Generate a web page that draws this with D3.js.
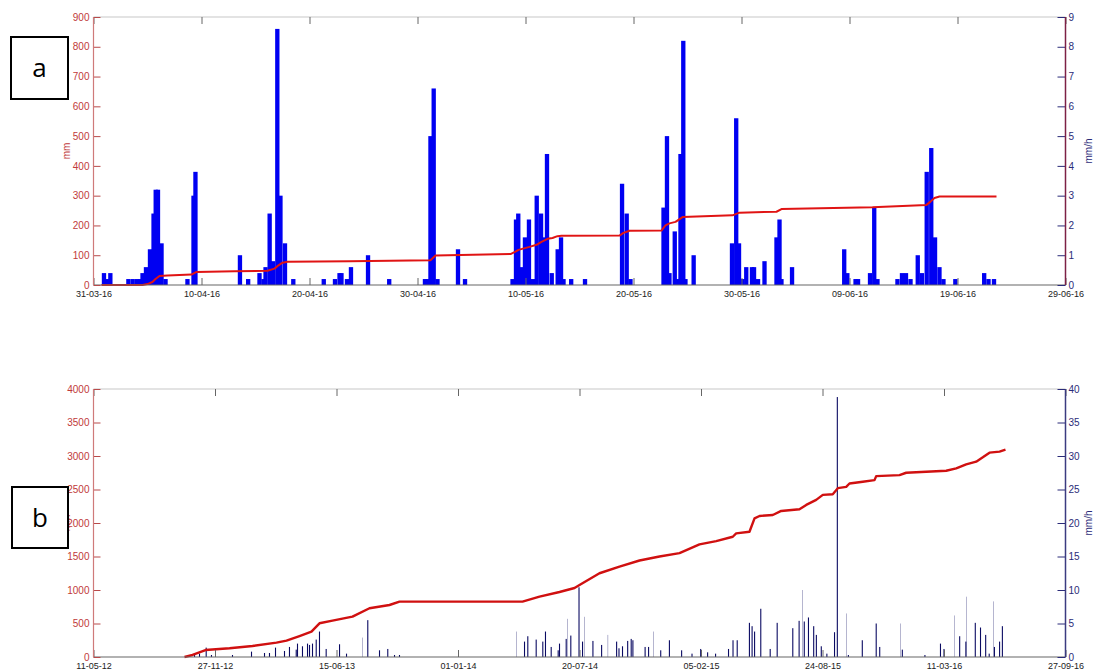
<!DOCTYPE html>
<html>
<head>
<meta charset="utf-8">
<script src="https://cdn.jsdelivr.net/npm/d3@7"></script>
<style>
  body { margin: 0; background: #fff; }
  svg text { font-family: "Liberation Sans", Arial, sans-serif; }
</style>
</head>
<body>
<svg id="chart" width="1095" height="672"></svg>
<script>
// ---------- Panel a: spring 2016 (days counted from 31-03-16 00:00) ----------
const ticksA = ["31-03-16", "10-04-16", "20-04-16", "30-04-16", "10-05-16",
                "20-05-16", "30-05-16", "09-06-16", "19-06-16", "29-06-16"];
const mmTicksA = [0, 100, 200, 300, 400, 500, 600, 700, 800, 900];
const rateTicksA = [0, 1, 2, 3, 4, 5, 6, 7, 8, 9];

// rainfall intensity [day, mm/h]
const rainA = [
  [0.97, 0.4], [1.25, 0.2], [1.56, 0.4],
  [3.23, 0.2], [3.63, 0.2], [4.03, 0.2], [4.35, 0.2], [4.54, 0.4], [4.86, 0.6], [5.23, 1.2],
  [5.56, 2.4], [5.76, 3.2], [5.97, 3.2], [6.30, 1.4], [6.67, 0.2],
  [8.70, 0.2], [9.26, 3.0], [9.44, 3.8],
  [13.56, 1.0], [14.32, 0.2],
  [15.37, 0.4], [15.74, 0.2], [15.93, 0.6], [16.31, 2.4], [16.62, 0.8], [17.02, 8.6],
  [17.31, 3.0], [17.73, 1.4], [18.50, 0.2],
  [21.32, 0.2], [22.36, 0.2], [22.78, 0.4], [22.96, 0.4], [23.47, 0.2], [23.84, 0.6],
  [25.42, 1.0], [27.38, 0.2],
  [30.69, 0.2], [30.93, 0.2], [31.20, 5.0], [31.50, 6.6], [31.85, 0.2],
  [33.75, 1.2], [34.40, 0.2],
  [38.80, 0.2], [39.12, 2.2], [39.33, 2.4], [39.66, 0.6], [39.95, 1.6], [40.32, 2.2],
  [40.68, 0.2], [41.04, 3.0], [41.44, 2.4], [41.62, 1.6], [41.99, 4.4], [42.43, 0.4],
  [42.98, 1.2], [43.29, 1.6], [43.52, 0.2],
  [44.23, 0.2], [45.51, 0.2],
  [48.94, 3.4], [49.37, 2.4], [49.72, 0.2],
  [52.78, 2.6], [53.10, 5.0], [53.33, 0.4], [53.82, 1.8], [54.07, 0.2], [54.35, 4.4],
  [54.61, 8.2], [54.81, 0.2], [55.57, 1.0],
  [59.12, 1.4], [59.51, 5.6], [59.77, 1.4], [60.09, 0.2], [60.44, 0.6], [60.97, 0.6],
  [61.16, 0.6], [61.53, 0.2], [62.13, 0.8],
  [63.24, 1.6], [63.52, 2.2], [63.70, 0.2], [64.68, 0.6],
  [69.51, 1.2], [69.80, 0.4], [70.56, 0.2], [70.79, 0.2],
  [71.90, 0.4], [72.29, 2.6], [72.59, 0.2],
  [74.44, 0.2], [74.86, 0.4], [75.23, 0.4], [75.65, 0.2], [76.32, 1.0],
  [76.71, 0.4], [77.15, 3.8], [77.57, 4.6], [77.92, 1.6], [78.33, 0.6], [78.70, 0.2],
  [79.80, 0.2], [82.47, 0.4], [82.87, 0.2], [83.38, 0.2]
];

// cumulative rainfall [day, mm]
const cumA = [
  [0.74, 0], [4.54, 0], [5.00, 3], [5.46, 10], [5.74, 20], [6.11, 30], [6.85, 32],
  [9.07, 35], [9.54, 44], [13.06, 46], [16.11, 48], [16.76, 55], [17.13, 66], [17.50, 75],
  [17.96, 78], [23.70, 80], [31.20, 83], [31.67, 99], [38.61, 104], [39.07, 112],
  [39.35, 118], [40.37, 128], [41.02, 135], [41.48, 145], [42.04, 155], [42.50, 158],
  [42.96, 164], [43.33, 165], [48.70, 166], [49.07, 175], [49.63, 182], [52.59, 183],
  [52.96, 200], [53.33, 207], [53.89, 212], [54.54, 228], [59.17, 234], [59.81, 243],
  [63.24, 246], [63.70, 255], [72.13, 261], [77.13, 269], [77.50, 280], [77.87, 292],
  [78.33, 297], [83.61, 297]
];

// ---------- Panel b: full record (days counted from 11-05-12 00:00) ----------
const ticksB = ["11-05-12", "27-11-12", "15-06-13", "01-01-14", "20-07-14",
                "05-02-15", "24-08-15", "11-03-16", "27-09-16"];
const mmTicksB = [0, 500, 1000, 1500, 2000, 2500, 3000, 3500, 4000];
const rateTicksB = [0, 5, 10, 15, 20, 25, 30, 35, 40];

// hourly intensity peaks [day, mm/h]
const rainB = [
  [158.0, 0.3], [166.3, 0.4], [174.5, 0.5], [185.5, 1.4], [194.2, 0.3], [228.8, 0.3],
  [260.1, 0.8], [281.5, 0.6], [289.7, 0.6], [299.6, 1.4], [314.4, 0.9], [322.6, 1.5],
  [333.7, 1.1], [335.8, 2.0], [344.0, 1.6], [352.3, 2.0], [355.6, 1.8], [360.5, 2.0],
  [366.6, 2.6], [372.0, 3.8], [383.0, 1.2], [405.0, 1.9], [416.5, 0.5], [451.5, 5.5],
  [470.8, 1.0], [484.4, 1.2], [495.5, 0.3], [503.7, 0.3],
  [709.5, 2.3], [714.9, 3.1], [728.7, 2.6], [739.6, 2.3], [744.0, 3.8], [753.4, 1.5],
  [764.9, 1.0], [767.1, 2.0], [778.1, 2.7], [785.7, 3.2], [799.2, 10.4], [805.0, 2.3],
  [822.1, 2.4], [836.4, 1.8], [861.1, 2.3], [865.0, 1.3], [870.8, 1.6], [879.3, 2.4],
  [885.1, 2.7], [887.9, 2.5], [908.0, 1.5], [913.7, 1.5], [933.7, 1.0], [948.0, 2.5],
  [968.1, 1.0], [985.2, 0.5], [999.5, 1.2], [1010.9, 0.7], [1024.0, 0.5], [1045.3, 1.2],
  [1052.7, 2.5], [1059.6, 2.5], [1079.7, 5.1], [1084.1, 4.6], [1088.2, 3.8], [1098.4, 7.2],
  [1113.9, 1.2], [1125.4, 5.1], [1151.1, 4.3], [1161.5, 5.4], [1170.0, 5.3], [1176.9, 5.9],
  [1185.5, 4.6], [1189.9, 3.3], [1198.0, 1.6], [1207.2, 0.5], [1219.8, 3.7], [1224.4, 38.8],
  [1242.6, 0.3], [1265.5, 2.5], [1288.4, 5.0], [1294.2, 1.5], [1331.4, 1.1], [1368.6, 0.3],
  [1394.2, 2.0], [1400.0, 1.2], [1425.8, 3.1], [1436.0, 2.3], [1451.5, 5.1], [1460.1, 4.4],
  [1468.6, 3.3], [1474.4, 0.5], [1483.0, 1.5], [1491.5, 2.3], [1496.1, 4.6]
];

// short bursts (drawn as hairlines) [day, mm/h]
const burstsB = [
  [443.3, 2.9], [695.8, 3.8], [780.8, 5.7], [807.9, 6.0], [846.8, 3.3], [922.3, 3.8],
  [1167.6, 10.0], [1239.8, 6.5], [1328.4, 5.0], [1417.1, 6.2], [1436.5, 9.0], [1481.0, 8.3]
];

// cumulative rainfall [day, mm]
const cumB = [
  [149.8, 0], [163.0, 30], [184.4, 104], [223.9, 130], [261.7, 164], [301.2, 214],
  [317.7, 244], [339.1, 313], [358.8, 378], [372.0, 503], [393.4, 542], [426.3, 602],
  [454.3, 727], [487.2, 776], [503.7, 826], [706.2, 826], [734.2, 900], [767.1, 970],
  [791.8, 1030], [800.0, 1075], [832.9, 1250], [865.8, 1350], [898.8, 1440], [931.7, 1500],
  [964.6, 1550], [997.5, 1682], [1025.0, 1730], [1052.3, 1795], [1057.9, 1845],
  [1079.8, 1870], [1088.1, 2070], [1096.3, 2105], [1118.2, 2120], [1132.0, 2180],
  [1162.1, 2205], [1173.2, 2270], [1189.6, 2345], [1200.5, 2420], [1216.9, 2430],
  [1225.2, 2520], [1239.0, 2540], [1244.4, 2590], [1266.3, 2615], [1285.6, 2640],
  [1288.4, 2700], [1326.7, 2715], [1337.8, 2750], [1403.6, 2780], [1420.1, 2815],
  [1436.5, 2875], [1453.0, 2915], [1463.9, 2980], [1474.9, 3050], [1491.4, 3065],
  [1501.2, 3095]
];

// ---------- drawing ----------
const svg = d3.select("#chart");
const parseDate = d3.utcParse("%d-%m-%y");
const DAY = 864e5;

const RED_TEXT = "#bf3a3a";
const RED_AXIS = "#cf7a7a";
const BLUE_TEXT = "#2b2b78";

function drawPanel(o) {
  const dates = o.ticks.map(parseDate);
  const t0 = dates[0];
  const at = d => new Date(t0.getTime() + d * DAY);

  const x = d3.scaleUtc().domain([dates[0], dates[dates.length - 1]]).range([o.left, o.right]);
  const yMm = d3.scaleLinear().domain([0, d3.max(o.mmTicks)]).range([o.bottom, o.top]);
  const yRate = d3.scaleLinear().domain([0, d3.max(o.rateTicks)]).range([o.bottom, o.top]);

  const g = svg.append("g");

  // frame: top edge
  g.append("line")
    .attr("x1", o.left).attr("x2", o.right)
    .attr("y1", o.top).attr("y2", o.top)
    .attr("stroke", "#c8c8c8").attr("stroke-width", 1.2);

  // intensity bars
  const half = o.barDays / 2;
  g.append("g").selectAll("rect").data(o.rain).join("rect")
    .attr("x", d => x(at(d[0] - half)))
    .attr("width", d => x(at(d[0] + half)) - x(at(d[0] - half)))
    .attr("y", d => yRate(d[1]))
    .attr("height", d => yRate(0) - yRate(d[1]))
    .attr("fill", o.barColor);

  if (o.bursts) {
    const h2 = o.burstDays / 2;
    g.append("g").selectAll("rect").data(o.bursts).join("rect")
      .attr("x", d => x(at(d[0] - h2)))
      .attr("width", d => x(at(d[0] + h2)) - x(at(d[0] - h2)))
      .attr("y", d => yRate(d[1]))
      .attr("height", d => yRate(0) - yRate(d[1]))
      .attr("fill", o.barColor);
  }

  // cumulative rainfall line
  g.append("path").datum(o.cum)
    .attr("fill", "none")
    .attr("stroke", o.lineColor)
    .attr("stroke-width", o.lineWidth)
    .attr("stroke-linejoin", "round")
    .attr("d", d3.line().x(d => x(at(d[0]))).y(d => yMm(d[1])));

  // bottom axis (inward ticks, date labels)
  const bx = g.append("g").attr("transform", `translate(0,${o.bottom})`)
    .call(d3.axisBottom(x).tickValues(dates).tickFormat(d3.utcFormat("%d-%m-%y"))
      .tickSizeInner(-7).tickSizeOuter(0).tickPadding(6));
  bx.select(".domain").remove();
  bx.selectAll(".tick line").attr("stroke", "#666");
  bx.selectAll(".tick text").attr("fill", "#222").attr("font-size", 9)
    .attr("font-family", "Liberation Sans, Arial, sans-serif");
  g.append("line")
    .attr("x1", o.left).attr("x2", o.right)
    .attr("y1", o.bottom).attr("y2", o.bottom)
    .attr("stroke", "#666").attr("stroke-width", 1.2);

  // top ticks
  const tx = g.append("g").attr("transform", `translate(0,${o.top})`)
    .call(d3.axisTop(x).tickValues(dates).tickFormat("").tickSizeInner(-7).tickSizeOuter(0));
  tx.select(".domain").remove();
  tx.selectAll(".tick line").attr("stroke", "#666");

  // left axis (mm)
  const ly = g.append("g").attr("transform", `translate(${o.left},0)`)
    .call(d3.axisLeft(yMm).tickValues(o.mmTicks).tickFormat(d3.format("d"))
      .tickSizeInner(-7).tickSizeOuter(0).tickPadding(4));
  ly.select(".domain").remove();
  ly.selectAll(".tick line").attr("stroke", "#b84a4a");
  ly.selectAll(".tick text").attr("fill", RED_TEXT).attr("font-size", 10)
    .attr("font-family", "Liberation Sans, Arial, sans-serif");
  g.append("line")
    .attr("x1", o.left).attr("x2", o.left)
    .attr("y1", o.top).attr("y2", o.bottom)
    .attr("stroke", RED_AXIS).attr("stroke-width", 1.2);

  // right axis (mm/h)
  const ry = g.append("g").attr("transform", `translate(${o.right},0)`)
    .call(d3.axisRight(yRate).tickValues(o.rateTicks).tickFormat(d3.format("d"))
      .tickSizeInner(-8).tickSizeOuter(0).tickPadding(3));
  ry.select(".domain").remove();
  ry.selectAll(".tick line").attr("stroke", "#2b2b78");
  ry.selectAll(".tick text").attr("fill", BLUE_TEXT).attr("font-size", 10)
    .attr("font-family", "Liberation Sans, Arial, sans-serif");
  g.append("line")
    .attr("x1", o.right).attr("x2", o.right)
    .attr("y1", o.top).attr("y2", o.bottom)
    .attr("stroke", o.rightAxisColor).attr("stroke-width", 1.5);

  // axis titles
  const midY = (o.top + o.bottom) / 2;
  g.append("text")
    .attr("transform", `translate(${o.left - 27},${midY}) rotate(-90)`)
    .attr("text-anchor", "middle").attr("dy", "0.35em")
    .attr("font-size", 10).attr("fill", RED_TEXT)
    .text("mm");
  g.append("text")
    .attr("transform", `translate(${o.right + 23},${midY}) rotate(-90)`)
    .attr("text-anchor", "middle").attr("dy", "0.35em")
    .attr("font-size", 10).attr("fill", BLUE_TEXT)
    .text("mm/h");

  // panel letter box
  g.append("rect")
    .attr("x", o.box[0]).attr("y", o.box[1])
    .attr("width", o.box[2]).attr("height", o.box[3])
    .attr("fill", "#fff").attr("stroke", "#000").attr("stroke-width", 2);
  g.append("text")
    .attr("x", o.box[0] + o.box[2] / 2).attr("y", o.box[1] + o.box[3] / 2)
    .attr("text-anchor", "middle").attr("dy", "0.35em")
    .style("font-family", "'Open Sans', 'Noto Sans', sans-serif")
    .attr("font-size", 26).attr("fill", "#000")
    .text(o.letter);
}

drawPanel({
  ticks: ticksA, mmTicks: mmTicksA, rateTicks: rateTicksA,
  rain: rainA, cum: cumA,
  left: 93.5, right: 1065.5, top: 17, bottom: 285,
  barDays: 0.4, barColor: "#0000f2",
  lineColor: "#e01414", lineWidth: 2,
  rightAxisColor: "#7d2146",
  box: [11, 37, 57, 62], letter: "a"
});

drawPanel({
  ticks: ticksB, mmTicks: mmTicksB, rateTicks: rateTicksB,
  rain: rainB, bursts: burstsB, cum: cumB,
  left: 93.5, right: 1065.5, top: 389, bottom: 657,
  barDays: 1.8, burstDays: 0.5, barColor: "#0a0a62",
  lineColor: "#d01010", lineWidth: 2.4,
  rightAxisColor: "#3b3b80",
  box: [12, 487, 56, 61], letter: "b"
});
</script>
</body>
</html>
